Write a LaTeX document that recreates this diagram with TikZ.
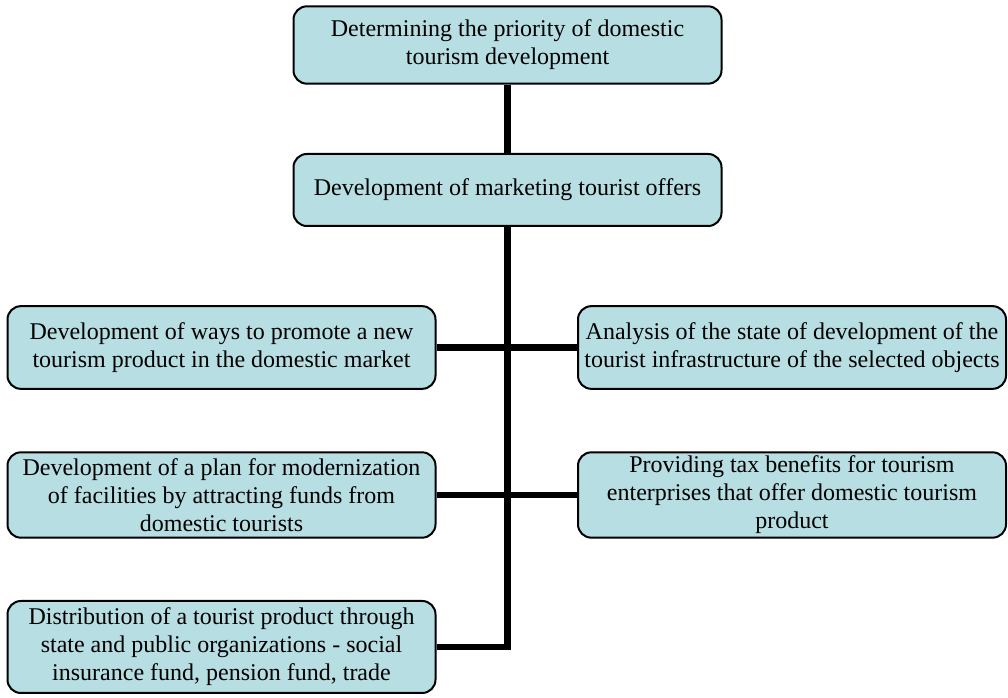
\documentclass[tikz,border=0pt]{standalone}
\usepackage{fontspec}
\setmainfont{Liberation Serif}
\definecolor{boxfill}{RGB}{183,222,226}
\begin{document}
\begin{tikzpicture}[x=0.75pt, y=-0.75pt,%
          box/.style={rectangle, rounded corners=10pt, draw=black, line width=1.5pt, fill=boxfill,
            minimum width=321pt, align=center, inner sep=1pt,
            font=\fontsize{18}{21}\selectfont},
          link/.style={line width=4.6pt}]
          \useasboundingbox (0,0) rectangle (1008,698);
          \node[box, minimum height=58pt] (prio) at (507.5,45) {Determining the priority of domestic\\tourism development};
          \node[box, minimum height=54pt] (mkt) at (507.5,190) {Development of marketing tourist offers};
          \node[box, minimum height=62pt] (promo) at (221.5,347.5) {Development of ways to promote a new\\tourism product in the domestic market};
          \node[box, minimum height=62pt] (infra) at (792,347.5) {Analysis of the state of development of the\\tourist infrastructure of the selected objects};
          \node[box, minimum height=64pt] (plan) at (221.5,495) {Development of a plan for modernization\\of facilities by attracting funds from\\domestic tourists};
          \node[box, minimum height=64pt] (tax) at (792,495) {Providing tax benefits for tourism\\enterprises that offer domestic tourism\\product};
          \node[box, minimum height=69pt] (distr) at (221.5,647) {Distribution of a tourist product through\\state and public organizations - social\\insurance fund, pension fund, trade};
          % trunk
          \draw[link] (prio.south) -- (mkt.north);
          \draw[link] (mkt.south) |- (distr.east);
          % branches
          \draw[link] (promo.east) -- (promo.east -| mkt.south);
          \draw[link] (mkt.south |- infra.west) -- (infra.west);
          \draw[link] (plan.east) -- (plan.east -| mkt.south);
          \draw[link] (mkt.south |- tax.west) -- (tax.west);
        \end{tikzpicture}
\end{document}
